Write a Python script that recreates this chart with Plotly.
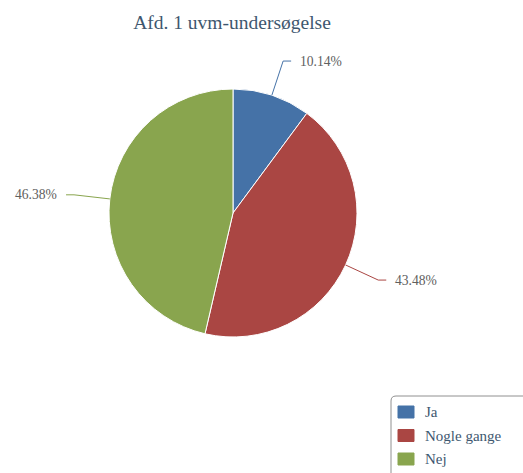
import math
import plotly.graph_objects as go

# ---- data ----
title_text = "Afd. 1 uvm-undersøgelse"
categories = ["Ja", "Nogle gange", "Nej"]
counts = [7, 30, 32]
colors = ["#4572A7", "#AA4643", "#89A54E"]

# ---- layout constants (pixels) ----
W, H = 523, 473
CX, CY, R = 233, 213, 124
DIST = 36
SERIF = "Liberation Serif, Times New Roman, DejaVu Serif, serif"

def px(x):
    return x / W

def py(y):
    return 1 - y / H

fig = go.Figure()
fig.add_trace(go.Pie(
    labels=categories,
    values=counts,
    marker=dict(colors=colors, line=dict(color="white", width=1)),
    sort=False,
    direction="clockwise",
    rotation=0,
    textinfo="none",
    hoverinfo="label+percent",
    domain=dict(x=[px(CX - R), px(CX + R)], y=[py(CY + R), py(CY - R)]),
    showlegend=False,
))

shapes = []
annotations = []
total = sum(counts)
cum = 0
for cat, v, col in zip(categories, counts, colors):
    frac = v / total
    mid = (cum + frac / 2) * 2 * math.pi
    cum += frac
    s, c = math.sin(mid), math.cos(mid)
    ex, ey = CX + R * s, CY - R * c
    ox, oy = CX + (R + DIST) * s, CY - (R + DIST) * c
    sign = 1 if s >= 0 else -1
    hx = ox + 8 * sign
    path = f"M {px(ex)} {py(ey)} L {px(ox)} {py(oy)} L {px(hx)} {py(oy)}"
    shapes.append(dict(type="path", xref="paper", yref="paper", path=path,
                       line=dict(color=col, width=1)))
    annotations.append(dict(
        x=px(hx + 7 * sign), y=py(oy), xref="paper", yref="paper",
        xanchor="left" if sign > 0 else "right", yanchor="middle",
        text=f"{frac * 100:.2f}%", showarrow=False,
        font=dict(family=SERIF, size=13.6, color="#606060"),
    ))

# ---- manual legend ----
LX0, LY0 = 391, 396
shapes.append(dict(type="path", xref="paper", yref="paper",
                   path=(f"M {px(LX0 + 5)} {py(LY0)} L {px(W + 20)} {py(LY0)} "
                         f"L {px(W + 20)} {py(H + 20)} L {px(LX0)} {py(H + 20)} "
                         f"L {px(LX0)} {py(LY0 + 5)} Q {px(LX0)} {py(LY0)} {px(LX0 + 5)} {py(LY0)} Z"),
                   line=dict(color="#909090", width=1), fillcolor="white"))
for i, (cat, col) in enumerate(zip(categories, colors)):
    yc = 412 + i * 23.5
    shapes.append(dict(type="rect", xref="paper", yref="paper",
                       x0=px(398), x1=px(414), y0=py(yc - 6), y1=py(yc + 6),
                       fillcolor=col, line=dict(color=col, width=1)))
    annotations.append(dict(
        x=px(423), y=py(yc), xref="paper", yref="paper",
        xanchor="left", yanchor="middle", text=cat, showarrow=False,
        font=dict(family=SERIF, size=15, color="#3E576F"),
    ))

fig.update_layout(
    width=W, height=H,
    margin=dict(l=0, r=0, t=0, b=0),
    paper_bgcolor="white",
    plot_bgcolor="white",
    font=dict(family=SERIF),
    title=dict(text=title_text, x=px(232), xanchor="center", y=py(22), yanchor="middle",
               font=dict(family=SERIF, size=19.5, color="#3E576F")),
    shapes=shapes,
    annotations=annotations,
    showlegend=False,
)

fig.write_html("out.html", config={"displayModeBar": False},
               post_script="document.body.style.margin='0';")
